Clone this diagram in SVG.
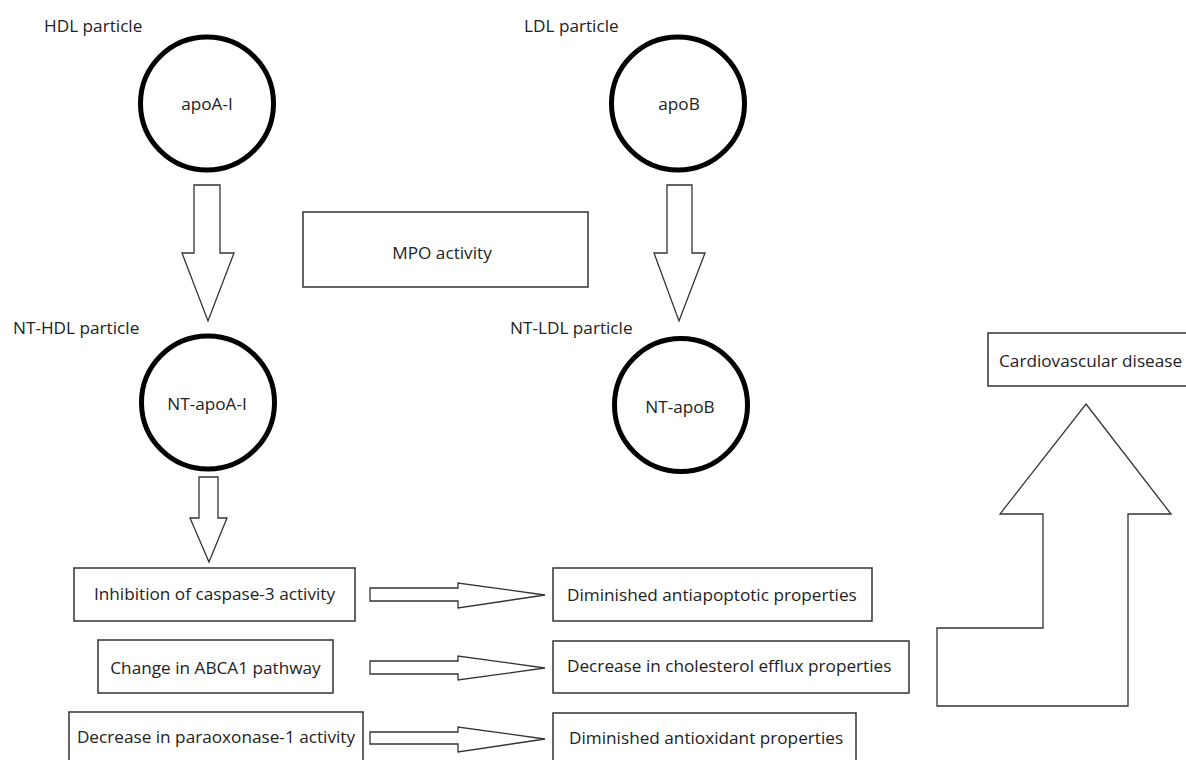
<svg xmlns="http://www.w3.org/2000/svg" width="1186" height="760" viewBox="0 0 1186 760">
<style>
text{font-family:"Open Sans","Liberation Sans",sans-serif;font-size:17.2px;fill:#222}
.c{text-anchor:middle}
.ring{fill:#fff;stroke:#000;stroke-width:5}
.box{fill:#fff;stroke:#333;stroke-width:1.5}
.arr{fill:#fff;stroke:#333;stroke-width:1.3;stroke-linejoin:miter}
</style>
<rect width="1186" height="760" fill="#fff"/>
<g id="connectors">
<polygon class="arr" points="194,185 220,185 220,253 234,253 208,321 182,253 194,253"/>
<polygon class="arr" points="667,185 692,185 692,253 705,253 679,321 654,253 667,253"/>
<polygon class="arr" points="199,477 218,477 218,518 227,518 209,562 190,518 199,518"/>
<polygon class="arr" points="370,588 458,588 458,583 545,595 458,608 458,601 370,601"/>
<polygon class="arr" points="370,661 458,661 458,656 545,668 458,680 458,674 370,674"/>
<polygon class="arr" points="370,732 458,732 458,727 545,739 458,752 458,744 370,744"/>
<polygon class="arr" points="1086,404 1171,514 1128,514 1128,706 937,706 937,628 1043,628 1043,514 1000,514"/>
</g>
<g id="hdl-label"><text x="44" y="32">HDL particle</text></g>
<g id="ldl-label"><text x="524" y="32">LDL particle</text></g>
<g id="apoA-I"><circle class="ring" cx="207" cy="103.5" r="66.5"/><text class="c" x="207" y="110">apoA-I</text></g>
<g id="apoB"><circle class="ring" cx="678" cy="103.5" r="66.5"/><text class="c" x="679" y="110">apoB</text></g>
<g id="mpo"><rect class="box" x="303" y="212" width="285" height="75"/><text class="c" x="442" y="259">MPO activity</text></g>
<g id="nt-hdl-label"><text x="13" y="334">NT-HDL particle</text></g>
<g id="nt-ldl-label"><text x="510" y="334">NT-LDL particle</text></g>
<g id="nt-apoA-I"><circle class="ring" cx="208" cy="402.5" r="66.5"/><text class="c" x="207" y="410">NT-apoA-I</text></g>
<g id="nt-apoB"><circle class="ring" cx="681" cy="405" r="66.5"/><text class="c" x="680" y="413">NT-apoB</text></g>
<g id="cvd"><rect class="box" x="988" y="333" width="200" height="53"/><text x="999" y="367">Cardiovascular disease</text></g>
<g id="caspase"><rect class="box" x="74" y="568" width="281" height="53"/><text class="c" x="214.5" y="600">Inhibition of caspase-3 activity</text></g>
<g id="abca1"><rect class="box" x="98" y="640" width="235" height="53"/><text class="c" x="215.5" y="674">Change in ABCA1 pathway</text></g>
<g id="pon1"><rect class="box" x="69" y="712" width="294" height="60"/><text class="c" x="216" y="743">Decrease in paraoxonase-1 activity</text></g>
<g id="antiapoptotic"><rect class="box" x="553" y="568" width="319" height="53"/><text x="567" y="601">Diminished antiapoptotic properties</text></g>
<g id="efflux"><rect class="box" x="553" y="641" width="356" height="52"/><text x="567" y="672">Decrease in cholesterol efflux properties</text></g>
<g id="antioxidant"><rect class="box" x="553" y="713" width="303" height="60"/><text x="569" y="744">Diminished antioxidant properties</text></g>
</svg>
